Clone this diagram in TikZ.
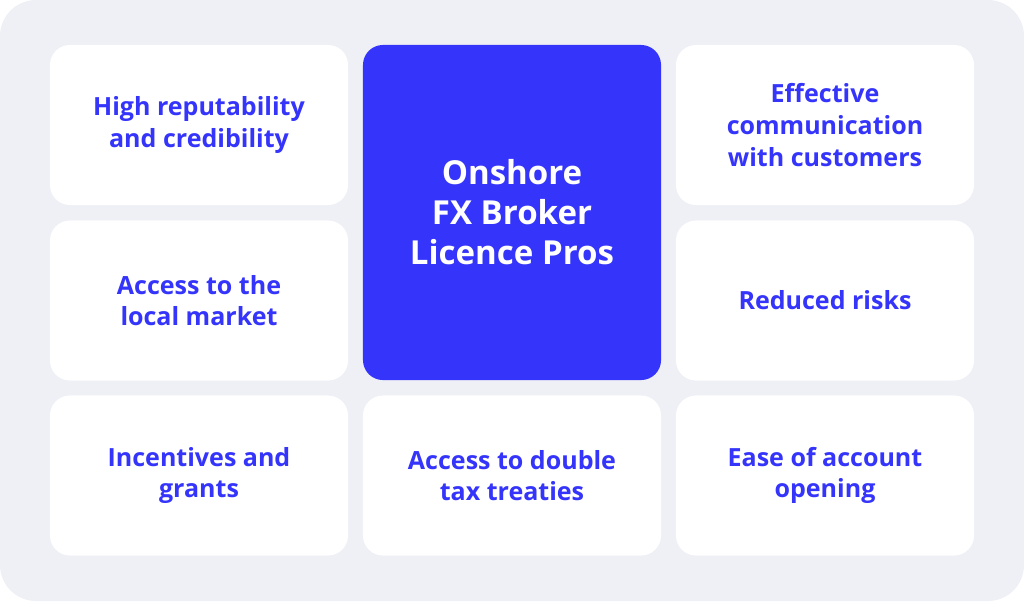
\documentclass[tikz,border=0pt]{standalone}
\usepackage{fontspec}
\setmainfont{Open Sans}
\definecolor{proBlue}{HTML}{3434FB}
\definecolor{proBack}{HTML}{EEF0F5}
\usetikzlibrary{positioning}

\begin{document}
\begin{tikzpicture}[x=0.025cm,y=-0.025cm,
  card/.style={rounded corners=0.5cm, fill=white, text=proBlue,
    minimum width=7.45cm, minimum height=4cm, align=center,
    font=\fontsize{17.8}{22.5}\selectfont\bfseries, inner sep=0pt},
  hub/.style={rounded corners=0.5cm, fill=proBlue, text=white,
    minimum width=7.45cm, minimum height=8.375cm, align=center,
    font=\fontsize{23.5}{28.5}\selectfont\bfseries, inner sep=0pt}
]
  % background panel
  \fill[proBack, rounded corners=0.9cm] (0,0) rectangle (1024,601);

  % centre
  \node[hub] (pros) at (512,212.5) {Onshore\\FX Broker\\Licence Pros};

  % left column
  \node[card] (reput) at (199,125) {High reputability\\and credibility};
  \node[card] (market) at (199,300.5) {Access to the\\local market};
  \node[card] (grants) at (199,475.5) {Incentives and\\grants};

  % bottom middle
  \node[card] (treaty) at (512,475.5) {Access to double\\tax treaties};

  % right column
  \node[card] (comm) at (825,125) {Effective\\communication\\with customers};
  \node[card] (risk) at (825,300.5) {Reduced risks};
  \node[card] (account) at (825,475.5) {Ease of account\\opening};
\end{tikzpicture}
\end{document}
